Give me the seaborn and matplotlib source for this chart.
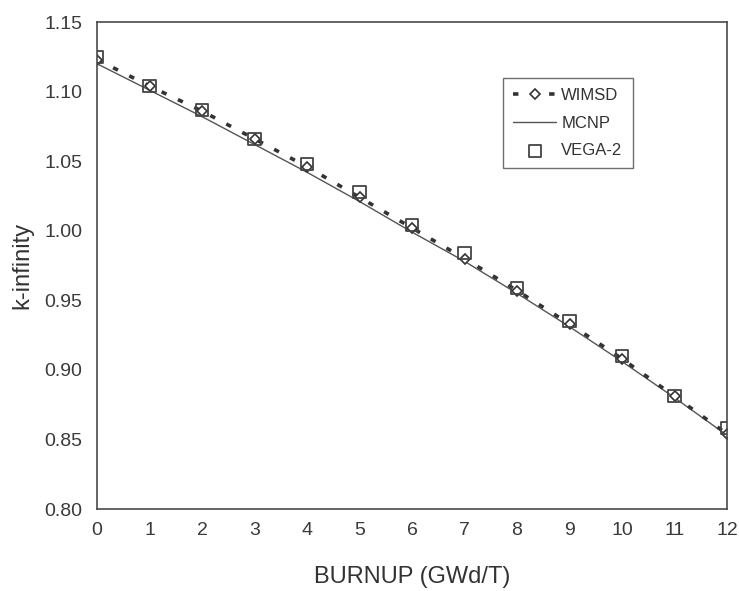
import matplotlib
matplotlib.use("Agg")
import matplotlib.pyplot as plt
import seaborn as sns
import pandas as pd

burnup = [0, 1, 2, 3, 4, 5, 6, 7, 8, 9, 10, 11, 12]
wimsd = [1.123, 1.104, 1.086, 1.066, 1.046, 1.024, 1.002, 0.980, 0.957, 0.933, 0.908, 0.881, 0.854]
mcnp = [1.120, 1.101, 1.082, 1.062, 1.042, 1.021, 0.999, 0.978, 0.955, 0.931, 0.906, 0.880, 0.853]
vega2 = [1.125, 1.104, 1.087, 1.066, 1.048, 1.028, 1.004, 0.984, 0.959, 0.935, 0.910, 0.881, 0.858]

x_ticks = [0, 1, 2, 3, 4, 5, 6, 7, 8, 9, 10, 11, 12]
y_ticks = [0.80, 0.85, 0.90, 0.95, 1.00, 1.05, 1.10, 1.15]

sns.set_style("white")
plt.rcParams['font.family'] = ['Liberation Sans', 'DejaVu Sans']

df = pd.DataFrame({"burnup": burnup, "WIMSD": wimsd, "MCNP": mcnp, "VEGA-2": vega2})

top, bottom = 22, 509
fig = plt.figure(figsize=(7.39, 5.91), dpi=100)
ax = fig.add_axes([97/739, 1 - bottom/591, (727-97)/739, (bottom-top)/591])

grey = "#4a4a4a"
sns.lineplot(data=df, x="burnup", y="MCNP", ax=ax, color="#555555", lw=1.0, label="MCNP")
sns.lineplot(data=df, x="burnup", y="WIMSD", ax=ax, color="#333333", lw=2.6,
             dashes=False, label="WIMSD")
ax.lines[-1].set_dashes([1.5, 3.5])
ax.lines[-1].set_marker("D")
ax.lines[-1].set_markersize(5)
ax.lines[-1].set_markerfacecolor("white")
ax.lines[-1].set_markeredgecolor("#333333")
ax.lines[-1].set_markeredgewidth(1.2)
sns.scatterplot(data=df, x="burnup", y="VEGA-2", ax=ax, marker="s", s=75,
                facecolor="none", edgecolor="#444444", linewidth=1.3, label="VEGA-2", zorder=5)

ax.set_xlim(0, 12)
ax.set_ylim(0.80, 1.15)
ax.set_xticks(x_ticks)
ax.set_yticks(y_ticks)
ax.set_yticklabels([f"{v:.2f}" for v in y_ticks])
ax.tick_params(axis="both", direction="inout", length=9, width=1, color=grey,
               labelsize=14, labelcolor="#3a3a3a")
ax.tick_params(axis="x", pad=5)
ax.tick_params(axis="y", pad=6)
for s in ax.spines.values():
    s.set_color(grey)
    s.set_linewidth(1.2)

ax.set_xlabel("BURNUP (GWd/T)", fontsize=17, color="#333333", labelpad=19)
ax.set_ylabel("k-infinity", fontsize=17, color="#333333", labelpad=8)

handles, labels = ax.get_legend_handles_labels()
order = [labels.index(n) for n in ["WIMSD", "MCNP", "VEGA-2"]]
leg = ax.legend([handles[i] for i in order], [labels[i] for i in order],
                loc="upper left", bbox_to_anchor=((503-97)/630, (bottom-78)/(bottom-top)),
                frameon=True, fancybox=False, edgecolor=grey, fontsize=12,
                handlelength=2.6, borderpad=0.6, borderaxespad=0, labelspacing=0.75,
                handletextpad=0.3)
leg.get_frame().set_linewidth(1.0)
for t in leg.get_texts():
    t.set_color("#333333")

fig.savefig("out.png", dpi=100)
